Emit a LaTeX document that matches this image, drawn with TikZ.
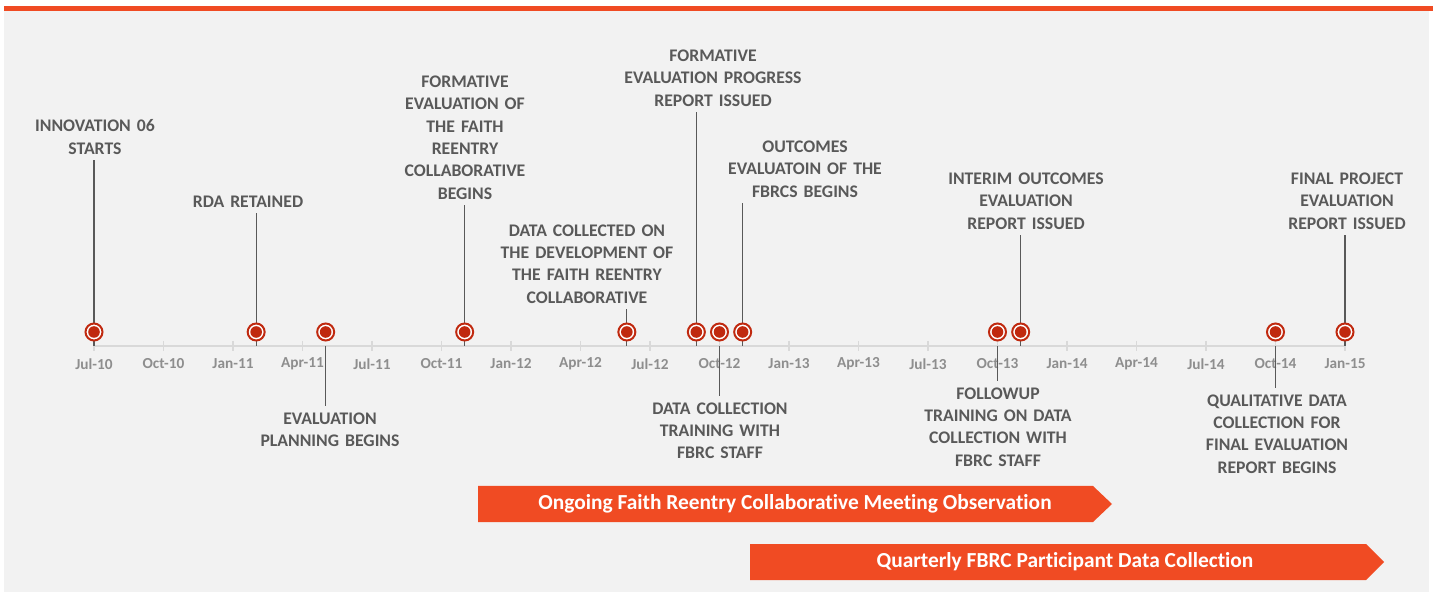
\documentclass[tikz,border=0pt]{standalone}
\usepackage{fontspec}
\setmainfont{Carlito}[Ligatures=NoCommon]
\newfontfamily\evfont[WordSpace=1.5]{Carlito}
\definecolor{accent}{HTML}{F04B23}
\definecolor{dotred}{HTML}{C0290F}
\definecolor{panel}{HTML}{F2F2F2}
\definecolor{ink}{HTML}{595959}
\definecolor{axisgray}{HTML}{D9D9D9}
\definecolor{ticklabel}{HTML}{8E8E8E}
\begin{document}
\begin{tikzpicture}[x=1pt,y=-1pt,
  event/.style={circle, draw=dotred, line width=2pt, fill=white, minimum size=17pt, inner sep=0pt,
    path picture={\fill[dotred] (path picture bounding box.center) circle[radius=5.8pt];}},
  evtext/.style={font=\evfont\fontsize{17.7}{22.3}\selectfont\bfseries, text=ink,
    align=center, inner xsep=0pt, inner ysep=6pt},
  stem/.style={draw=ink, line width=1.3pt},
  month/.style={font=\fontsize{15.3}{18}\selectfont\bfseries, text=ticklabel},
  bar/.style={fill=accent},
  bartext/.style={font=\fontsize{21.4}{24}\selectfont\bfseries, text=white}]

% page, panel and top stripe
\useasboundingbox (0,0) rectangle (1433,593);
\fill[white] (0,0) rectangle (1433,593);
\fill[panel] (4,11) rectangle (1429,592);
\fill[accent] (4,6) rectangle (1433,11.5);

% time axis with quarterly ticks
\coordinate (axis) at (0,346);
\draw[axisgray, line width=2pt] (94,346) -- (1345,346);
\foreach \lab [count=\k from 0] in {Jul-10,Oct-10,Jan-11,Apr-11,Jul-11,Oct-11,Jan-12,Apr-12,Jul-12,Oct-12,Jan-13,Apr-13,Jul-13,Oct-13,Jan-14,Apr-14,Jul-14,Oct-14,Jan-15}{
  \draw[axisgray, line width=1.5pt] (94+\k*69.5,341) -- (94+\k*69.5,351);
  \node[month] (q\k) at (94+\k*69.5,364) {\lab};
}

% event positions (months after Jul-10)
\foreach \n/\m in {1/0,2/7,3/10,4/16,5/23,6/26,7/27,8/28,9/39,10/40,11/51,12/54}{
  \coordinate (p\n) at (94+\m*23.1667,332);
}

% event texts
\node[evtext, anchor=south] (t1) at (95,160.5) {INNOVATION 06\\STARTS};
\node[evtext, anchor=south] (t2) at (248,213.5) {RDA RETAINED};
\node[evtext, anchor=north] (t3) at (330,406.5) {EVALUATION\\PLANNING BEGINS};
\node[evtext, anchor=south] (t4) at (465,205.5) {FORMATIVE\\EVALUATION OF\\THE FAITH\\REENTRY\\COLLABORATIVE\\BEGINS};
\node[evtext, anchor=south] (t5) at (587,309.5) {DATA COLLECTED ON\\THE DEVELOPMENT OF\\THE FAITH REENTRY\\COLLABORATIVE};
\node[evtext, anchor=south] (t6) at (713,112.5) {FORMATIVE\\EVALUATION PROGRESS\\REPORT ISSUED};
\node[evtext, anchor=north] (t7) at (720,396.5) {DATA COLLECTION\\TRAINING WITH\\FBRC STAFF};
\node[evtext, anchor=south] (t8) at (805,203.5) {OUTCOMES\\EVALUATOIN OF THE\\FBRCS BEGINS};
\node[evtext, anchor=north] (t9) at (998,381.5) {FOLLOWUP\\TRAINING ON DATA\\COLLECTION WITH\\FBRC STAFF};
\node[evtext, anchor=south] (t10) at (1026,235.5) {INTERIM OUTCOMES\\EVALUATION\\REPORT ISSUED};
\node[evtext, anchor=north] (t11) at (1277,388.5) {QUALITATIVE DATA\\COLLECTION FOR\\FINAL EVALUATION\\REPORT BEGINS};
\node[evtext, anchor=south] (t12) at (1347,235.5) {FINAL PROJECT\\EVALUATION\\REPORT ISSUED};

% stems from texts to the axis
\foreach \n in {1,2,4,5,6,8,10,12}{
  \draw[stem] (t\n.south -| p\n) -- (p\n |- axis);
}
\foreach \n in {3,7,9,11}{
  \draw[stem] (p\n |- axis) -- (t\n.north -| p\n);
}

% event markers
\foreach \n in {1,...,12}{
  \node[event] (e\n) at (p\n) {};
}

% activity bands
\fill[bar] (478,486) -- (1093,486) -- (1112,504) -- (1093,522) -- (478,522) -- cycle;
\node[bartext] (band1) at (795,504) {Ongoing Faith Reentry Collaborative Meeting Observation};
\fill[bar] (750,544) -- (1366,544) -- (1384,562) -- (1366,580) -- (750,580) -- cycle;
\node[bartext] (band2) at (1065,562) {Quarterly FBRC Participant Data Collection};
\end{tikzpicture}
\end{document}
